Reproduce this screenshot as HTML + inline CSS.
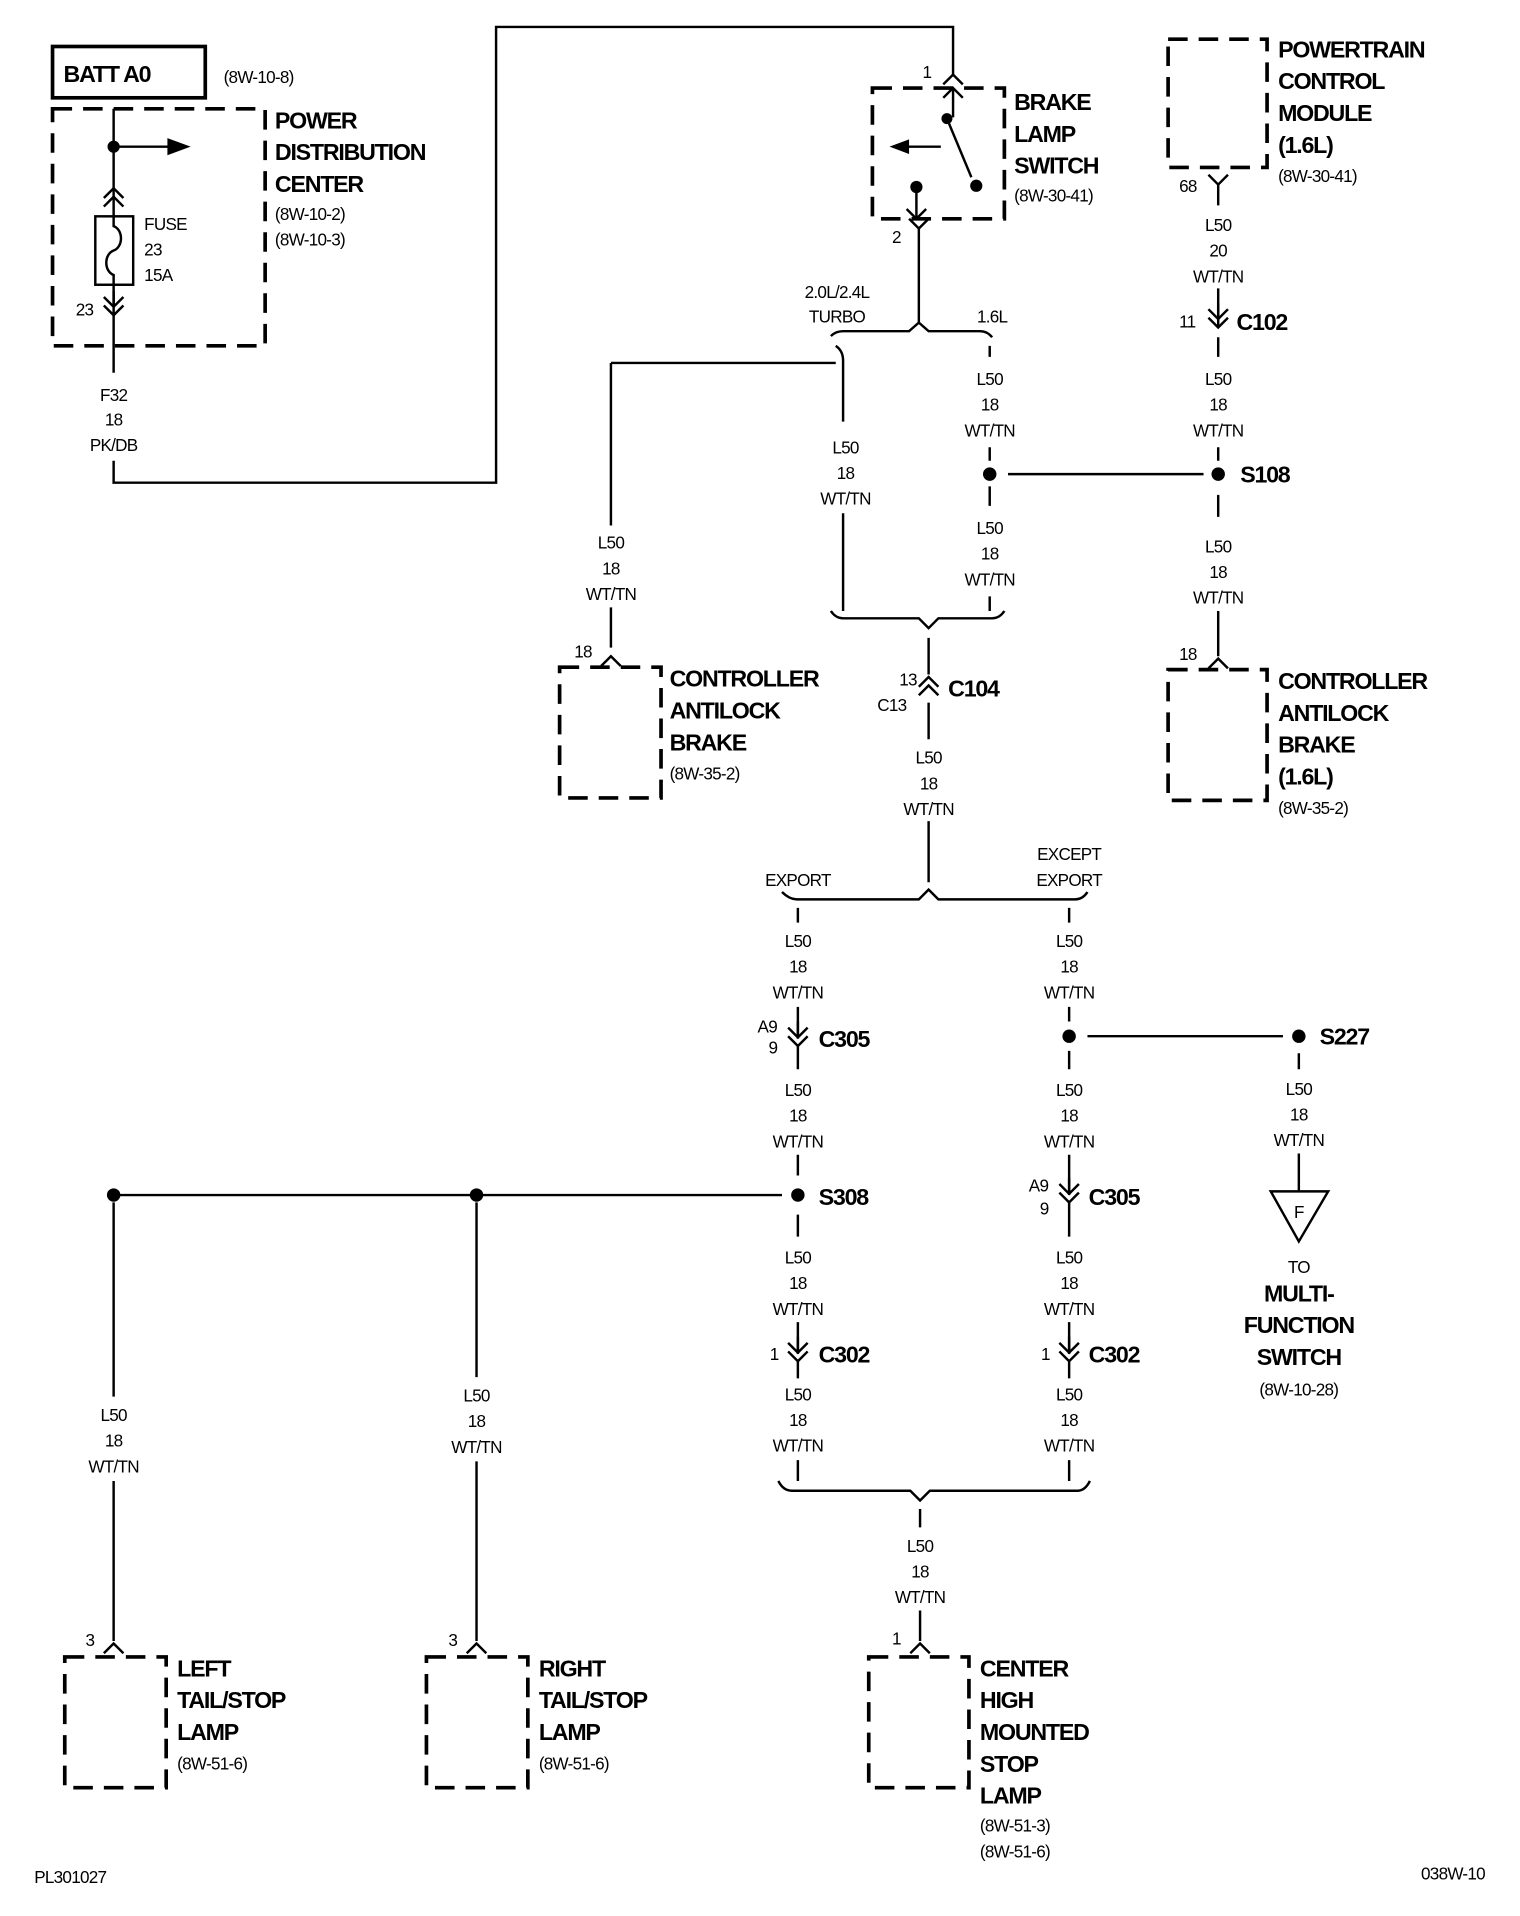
<!DOCTYPE html>
<html><head><meta charset="utf-8"><style>
html,body{margin:0;padding:0;background:#fff}
svg{display:block}
text{font-family:"Liberation Sans",sans-serif;fill:#000}
.t{font-size:14px;text-anchor:middle;letter-spacing:-0.6px}
.l{font-size:14px;letter-spacing:-0.6px}
.b{font-size:19px;font-weight:bold;letter-spacing:-1px}
.w{stroke:#000;stroke-width:2;fill:none}
.d{stroke:#000;stroke-width:3;fill:none;stroke-dasharray:16 9}
</style></head><body>
<svg width="1520" height="1916" viewBox="0 0 1244 1568" xmlns="http://www.w3.org/2000/svg">
<defs>
<path id="cd" d="M-8,-9 L0,-1 L8,-9 M-8,-2 L0,6 L8,-2 M0,-1 L0,-14" stroke="#000" stroke-width="2" fill="none"/>
<path id="cu" d="M-8,9 L0,1 L8,9 M-8,2 L0,-6 L8,2" stroke="#000" stroke-width="2" fill="none"/>
<path id="pu" d="M-8,7 L0,-1 L8,7" stroke="#000" stroke-width="2" fill="none"/>
<path id="pd" d="M-8,-7 L0,1 L8,-7" stroke="#000" stroke-width="2" fill="none"/>
</defs>

<!-- BATT / PDC -->
<rect x="43" y="38" width="125" height="42" stroke="#000" stroke-width="3" fill="none"/>
<text x="52" y="67" class="b">BATT A0</text>
<text x="183" y="68" class="l">(8W-10-8)</text>
<rect x="43" y="89" width="174" height="194" class="d"/>
<text x="225" y="105" class="b">POWER</text>
<text x="225" y="131" class="b">DISTRIBUTION</text>
<text x="225" y="157" class="b">CENTER</text>
<text x="225" y="180" class="l">(8W-10-2)</text>
<text x="225" y="201" class="l">(8W-10-3)</text>
<path class="w" d="M93,89 V177 M93,232 V305"/>
<circle cx="93" cy="120" r="5"/>
<path class="w" d="M93,120 H140"/>
<path d="M137,113 L156,120 L137,127Z"/>
<use href="#cu" x="93" y="160"/>
<rect x="78" y="177" width="31" height="56" stroke="#000" stroke-width="2" fill="none"/>
<path class="w" d="M93,177 V185 C101,188 101,202 93,205 C85,208 85,222 93,225 V233"/>
<use href="#cd" x="93" y="252"/>
<text x="62" y="258" class="l">23</text>
<text x="118" y="188" class="l">FUSE</text>
<text x="118" y="209" class="l">23</text>
<text x="118" y="230" class="l">15A</text>
<text x="93" y="328" class="t">F32</text>
<text x="93" y="348" class="t">18</text>
<text x="93" y="369" class="t">PK/DB</text>
<path class="w" d="M93,377 V395 H406 V22 H780 V62"/>

<!-- Brake lamp switch -->
<use href="#pu" x="780" y="62"/>
<text x="755" y="64" class="l">1</text>
<rect x="714" y="72" width="108" height="107" class="d"/>
<path class="w" d="M780,72 V96"/>
<path class="w" d="M772,80 L780,72 L788,80"/>
<circle cx="775" cy="97" r="4.5"/>
<path class="w" d="M775,97 L795,145"/>
<circle cx="799" cy="152" r="5"/>
<path class="w" d="M770,120 H740"/>
<path d="M744,114 L728,120 L744,126Z"/>
<circle cx="750" cy="153" r="5"/>
<path class="w" d="M750,153 V180"/>
<path class="w" d="M742,171 L750,179 L758,171"/>
<use href="#pd" x="752" y="186"/>
<path class="w" d="M752,187 V265"/>
<text x="730" y="199" class="l">2</text>
<text x="830" y="90" class="b">BRAKE</text>
<text x="830" y="116" class="b">LAMP</text>
<text x="830" y="142" class="b">SWITCH</text>
<text x="830" y="165" class="l">(8W-30-41)</text>

<!-- split 1 -->
<text x="685" y="244" class="t">2.0L/2.4L</text>
<text x="685" y="264" class="t">TURBO</text>
<text x="812" y="264" class="t">1.6L</text>
<path class="w" d="M680,275 Q684,271 690,271 H744 L752,264 L760,271 H802 Q808,271 812,276"/>
<path class="w" d="M684,283 Q690,287 690,295 V345 M690,420 V500"/>
<path class="w" d="M500,297 H684 M500,297 V430 M500,497 V530"/>
<text x="500" y="449" class="t">L50</text><text x="500" y="470" class="t">18</text><text x="500" y="491" class="t">WT/TN</text>
<text x="692" y="371" class="t">L50</text><text x="692" y="392" class="t">18</text><text x="692" y="413" class="t">WT/TN</text>
<path class="w" d="M810,283 V292 M810,366 V377 M810,398 V414 M810,488 V500"/>
<text x="810" y="315" class="t">L50</text><text x="810" y="336" class="t">18</text><text x="810" y="357" class="t">WT/TN</text>
<circle cx="810" cy="388" r="5.5"/>
<text x="810" y="437" class="t">L50</text><text x="810" y="458" class="t">18</text><text x="810" y="479" class="t">WT/TN</text>
<path class="w" d="M825,388 H985"/>
<path class="w" d="M680,500 Q684,506 690,506 H752 L760,514 L768,506 H812 Q818,506 822,500"/>
<path class="w" d="M760,522 V552 M760,575 V605 M760,672 V722"/>

<!-- C104 -->
<use href="#cu" x="760" y="560"/>
<text x="736" y="561" class="l">13</text>
<text x="718" y="582" class="l">C13</text>
<text x="776" y="570" class="b">C104</text>
<text x="760" y="625" class="t">L50</text><text x="760" y="646" class="t">18</text><text x="760" y="667" class="t">WT/TN</text>

<!-- left ABS -->
<use href="#pu" x="500" y="538"/>
<text x="470" y="538" class="l">18</text>
<rect x="458" y="546" width="83" height="107" class="d"/>
<text x="548" y="562" class="b">CONTROLLER</text>
<text x="548" y="588" class="b">ANTILOCK</text>
<text x="548" y="614" class="b">BRAKE</text>
<text x="548" y="638" class="l">(8W-35-2)</text>

<!-- PCM -->
<rect x="956" y="32" width="81" height="105" class="d"/>
<text x="1046" y="47" class="b">POWERTRAIN</text>
<text x="1046" y="73" class="b">CONTROL</text>
<text x="1046" y="99" class="b">MODULE</text>
<text x="1046" y="125" class="b">(1.6L)</text>
<text x="1046" y="149" class="l">(8W-30-41)</text>
<use href="#pd" x="997" y="150"/>
<text x="965" y="157" class="l">68</text>
<path class="w" d="M997,151 V168 M997,236 V268 M997,276 V292 M997,366 V377 M997,405 V423 M997,500 V537"/>
<text x="997" y="189" class="t">L50</text><text x="997" y="210" class="t">20</text><text x="997" y="231" class="t">WT/TN</text>
<use href="#cd" x="997" y="262"/>
<text x="965" y="268" class="l">11</text>
<text x="1012" y="270" class="b">C102</text>
<text x="997" y="315" class="t">L50</text><text x="997" y="336" class="t">18</text><text x="997" y="357" class="t">WT/TN</text>
<circle cx="997" cy="388" r="5.5"/>
<text x="1015" y="395" class="b">S108</text>
<text x="997" y="452" class="t">L50</text><text x="997" y="473" class="t">18</text><text x="997" y="494" class="t">WT/TN</text>
<use href="#pu" x="997" y="540"/>
<text x="965" y="540" class="l">18</text>
<rect x="956" y="548" width="81" height="107" class="d"/>
<text x="1046" y="564" class="b">CONTROLLER</text>
<text x="1046" y="590" class="b">ANTILOCK</text>
<text x="1046" y="616" class="b">BRAKE</text>
<text x="1046" y="642" class="b">(1.6L)</text>
<text x="1046" y="666" class="l">(8W-35-2)</text>

<!-- export split -->
<text x="653" y="725" class="t">EXPORT</text>
<text x="875" y="704" class="t">EXCEPT</text>
<text x="875" y="725" class="t">EXPORT</text>
<path class="w" d="M640,730 Q646,736 652,736 H752 L760,728 L768,736 H880 Q886,736 890,730"/>
<path class="w" d="M653,743 V755 M875,743 V755"/>

<!-- export branch -->
<text x="653" y="775" class="t">L50</text><text x="653" y="796" class="t">18</text><text x="653" y="817" class="t">WT/TN</text>
<path class="w" d="M653,824 V850 M653,856 V875 M653,945 V962 M653,994 V1012 M653,1082 V1108 M653,1114 V1128 M653,1195 V1212"/>
<use href="#cd" x="653" y="850"/>
<text x="620" y="845" class="l">A9</text><text x="629" y="862" class="l">9</text>
<text x="670" y="857" class="b">C305</text>
<text x="653" y="897" class="t">L50</text><text x="653" y="918" class="t">18</text><text x="653" y="939" class="t">WT/TN</text>
<circle cx="653" cy="978" r="5.5"/>
<text x="670" y="986" class="b">S308</text>
<path class="w" d="M93,978 H640"/>
<circle cx="93" cy="978" r="5.5"/>
<circle cx="390" cy="978" r="5.5"/>
<text x="653" y="1034" class="t">L50</text><text x="653" y="1055" class="t">18</text><text x="653" y="1076" class="t">WT/TN</text>
<use href="#cd" x="653" y="1108"/>
<text x="630" y="1113" class="l">1</text>
<text x="670" y="1115" class="b">C302</text>
<text x="653" y="1146" class="t">L50</text><text x="653" y="1167" class="t">18</text><text x="653" y="1188" class="t">WT/TN</text>

<!-- except branch -->
<text x="875" y="775" class="t">L50</text><text x="875" y="796" class="t">18</text><text x="875" y="817" class="t">WT/TN</text>
<path class="w" d="M875,824 V836 M875,860 V875 M875,945 V978 M875,984 V1012 M875,1082 V1108 M875,1114 V1128 M875,1195 V1212"/>
<circle cx="875" cy="848" r="5.5"/>
<path class="w" d="M890,848 H1050"/>
<circle cx="1063" cy="848" r="5.5"/>
<text x="1080" y="855" class="b">S227</text>
<text x="875" y="897" class="t">L50</text><text x="875" y="918" class="t">18</text><text x="875" y="939" class="t">WT/TN</text>
<use href="#cd" x="875" y="978"/>
<text x="842" y="975" class="l">A9</text><text x="851" y="994" class="l">9</text>
<text x="891" y="986" class="b">C305</text>
<text x="875" y="1034" class="t">L50</text><text x="875" y="1055" class="t">18</text><text x="875" y="1076" class="t">WT/TN</text>
<use href="#cd" x="875" y="1108"/>
<text x="852" y="1113" class="l">1</text>
<text x="891" y="1115" class="b">C302</text>
<text x="875" y="1146" class="t">L50</text><text x="875" y="1167" class="t">18</text><text x="875" y="1188" class="t">WT/TN</text>

<!-- S227 to MFS -->
<path class="w" d="M1063,862 V875 M1063,944 V975"/>
<text x="1063" y="896" class="t">L50</text><text x="1063" y="917" class="t">18</text><text x="1063" y="938" class="t">WT/TN</text>
<path class="w" d="M1040,975 H1087 L1063,1016 Z"/>
<text x="1063" y="997" class="t">F</text>
<text x="1063" y="1042" class="t">TO</text>
<text x="1063" y="1065" class="b" text-anchor="middle">MULTI-</text>
<text x="1063" y="1091" class="b" text-anchor="middle">FUNCTION</text>
<text x="1063" y="1117" class="b" text-anchor="middle">SWITCH</text>
<text x="1063" y="1142" class="t">(8W-10-28)</text>

<!-- CHMSL merge -->
<path class="w" d="M637,1212 Q641,1220 648,1220 H745 L753,1228 L761,1220 H882 Q888,1220 892,1212"/>
<path class="w" d="M753,1235 V1250 M753,1318 V1343"/>
<text x="753" y="1270" class="t">L50</text><text x="753" y="1291" class="t">18</text><text x="753" y="1312" class="t">WT/TN</text>
<use href="#pu" x="753" y="1346"/>
<text x="730" y="1346" class="l">1</text>
<rect x="711" y="1356" width="82" height="107" class="d"/>
<text x="802" y="1372" class="b">CENTER</text>
<text x="802" y="1398" class="b">HIGH</text>
<text x="802" y="1424" class="b">MOUNTED</text>
<text x="802" y="1450" class="b">STOP</text>
<text x="802" y="1476" class="b">LAMP</text>
<text x="802" y="1499" class="l">(8W-51-3)</text>
<text x="802" y="1520" class="l">(8W-51-6)</text>

<!-- left lamp -->
<path class="w" d="M93,984 V1143 M93,1212 V1343"/>
<text x="93" y="1163" class="t">L50</text><text x="93" y="1184" class="t">18</text><text x="93" y="1205" class="t">WT/TN</text>
<use href="#pu" x="93" y="1346"/>
<text x="70" y="1347" class="l">3</text>
<rect x="53" y="1356" width="83" height="107" class="d"/>
<text x="145" y="1372" class="b">LEFT</text>
<text x="145" y="1398" class="b">TAIL/STOP</text>
<text x="145" y="1424" class="b">LAMP</text>
<text x="145" y="1448" class="l">(8W-51-6)</text>

<!-- right lamp -->
<path class="w" d="M390,984 V1127 M390,1196 V1343"/>
<text x="390" y="1147" class="t">L50</text><text x="390" y="1168" class="t">18</text><text x="390" y="1189" class="t">WT/TN</text>
<use href="#pu" x="390" y="1346"/>
<text x="367" y="1347" class="l">3</text>
<rect x="349" y="1356" width="83" height="107" class="d"/>
<text x="441" y="1372" class="b">RIGHT</text>
<text x="441" y="1398" class="b">TAIL/STOP</text>
<text x="441" y="1424" class="b">LAMP</text>
<text x="441" y="1448" class="l">(8W-51-6)</text>

<text x="28" y="1541" class="l">PL301027</text>
<text x="1163" y="1538" class="l">038W-10</text>
</svg>
</body></html>
